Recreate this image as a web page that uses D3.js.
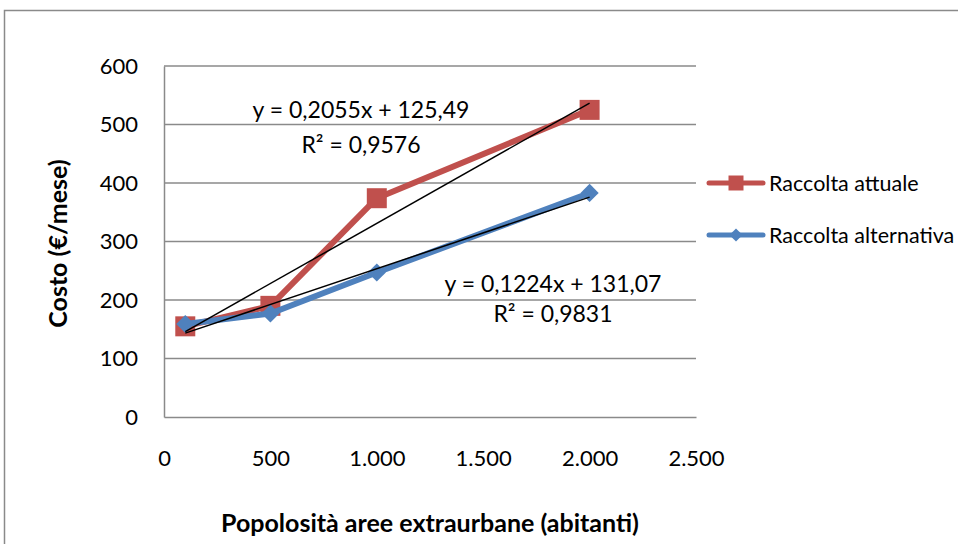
<!DOCTYPE html>
<html>
<head>
<meta charset="utf-8">
<script src="https://cdn.jsdelivr.net/npm/d3@7"></script>
<style>
  html, body { margin: 0; padding: 0; background: #fff; }
  svg { display: block; font-family: Lato, "Open Sans", sans-serif; }
</style>
</head>
<body>
<svg id="chart" width="958" height="544"></svg>
<script>
// Population of the extra-urban areas (inhabitants)
const popolosita = [100, 500, 1000, 2000];
// Monthly cost (€/mese) per collection scheme
const raccoltaAttuale = [155, 190, 374, 525];
const raccoltaAlternativa = [159, 177, 247, 383];
const seriesNames = ["Raccolta attuale", "Raccolta alternativa"];
// Linear trend lines: slope, intercept, R²
const trendSlope = [0.2055, 0.1224];
const trendIntercept = [125.49, 131.07];
const trendR2 = ["0,9576", "0,9831"];
const trendEq = ["y = 0,2055x + 125,49", "y = 0,1224x + 131,07"];
// Axis ticks
const xTicks = [0, 500, 1000, 1500, 2000, 2500];
const yTicks = [0, 100, 200, 300, 400, 500, 600];

const colors = ["#C0504D", "#4F81BD"];
const gridColor = "#8a8a8a";

const svg = d3.select("#chart");
const it = d3.formatLocale({ decimal: ",", thousands: ".", grouping: [3], currency: ["", " €"] });
const fmt = it.format(",d");

const plot = { left: 164, right: 696, top: 66, bottom: 417 };
const x = d3.scaleLinear().domain([0, 2500]).range([plot.left, plot.right]);
const y = d3.scaleLinear().domain([0, 600]).range([plot.bottom, plot.top]);

// Outer chart frame
svg.append("rect")
  .attr("x", 4.5).attr("y", 10.5)
  .attr("width", 2000).attr("height", 2000)
  .attr("fill", "none").attr("stroke", gridColor).attr("stroke-width", 1.5);

// Horizontal gridlines
svg.append("g")
  .selectAll("line")
  .data(yTicks.filter(d => d > 0))
  .join("line")
  .attr("x1", plot.left).attr("x2", plot.right)
  .attr("y1", d => y(d)).attr("y2", d => y(d))
  .attr("stroke", gridColor).attr("stroke-width", 1.5);

// Y axis
const yAxis = svg.append("g")
  .attr("transform", `translate(${plot.left},0)`)
  .call(d3.axisLeft(y).tickValues(yTicks).tickSize(0).tickPadding(26).tickFormat(fmt));
yAxis.select(".domain").attr("stroke", gridColor).attr("stroke-width", 1.5);
yAxis.selectAll("text").attr("font-size", 22).attr("font-family", "Lato, sans-serif").attr("fill", "#000");

// X axis
const xAxis = svg.append("g")
  .attr("transform", `translate(0,${plot.bottom})`)
  .call(d3.axisBottom(x).tickValues(xTicks).tickSize(0).tickPadding(33).tickFormat(fmt));
xAxis.select(".domain").attr("stroke", gridColor).attr("stroke-width", 1.5);
xAxis.selectAll("text").attr("font-size", 22).attr("font-family", "Lato, sans-serif").attr("fill", "#000");

// Axis titles
svg.append("text")
  .attr("x", (plot.left + plot.right) / 2).attr("y", 532)
  .attr("text-anchor", "middle")
  .attr("font-size", 25).attr("font-weight", "bold")
  .text("Popolosità aree extraurbane (abitanti)");
svg.append("text")
  .attr("transform", `translate(67,${(plot.top + plot.bottom) / 2 + 2}) rotate(-90)`)
  .attr("text-anchor", "middle")
  .attr("font-size", 25).attr("font-weight", "bold")
  .text("Costo (€/mese)");

// Series lines and markers
const seriesValues = [raccoltaAttuale, raccoltaAlternativa];
const line = d3.line().x(d => x(d[0])).y(d => y(d[1]));
const square = d3.symbol().type(d3.symbolSquare).size(400);
const diamond = d3.symbol().type(d3.symbolDiamond2).size(210);
const legendSquare = d3.symbol().type(d3.symbolSquare).size(225);
const legendDiamond = d3.symbol().type(d3.symbolDiamond2).size(110);

seriesValues.forEach((vals, i) => {
  const pts = popolosita.map((p, k) => [p, vals[k]]);
  const g = svg.append("g");
  g.append("path")
    .attr("d", line(pts))
    .attr("fill", "none").attr("stroke", colors[i])
    .attr("stroke-width", 6).attr("stroke-linejoin", "round");
  g.selectAll("path.m")
    .data(pts)
    .join("path").attr("class", "m")
    .attr("transform", d => `translate(${x(d[0])},${y(d[1])})`)
    .attr("d", i === 0 ? square() : diamond())
    .attr("fill", colors[i]);
});

// Linear trend lines
trendSlope.forEach((m, i) => {
  const x0 = d3.min(popolosita), x1 = d3.max(popolosita);
  svg.append("line")
    .attr("x1", x(x0)).attr("y1", y(m * x0 + trendIntercept[i]))
    .attr("x2", x(x1)).attr("y2", y(m * x1 + trendIntercept[i]))
    .attr("stroke", "#000").attr("stroke-width", 1.5);
});

// Trend equation labels
const eqPos = [[361, 118, 153], [553, 292, 322]];
trendEq.forEach((eq, i) => {
  const t = svg.append("text").attr("text-anchor", "middle").attr("font-size", 23);
  t.append("tspan").attr("x", eqPos[i][0]).attr("y", eqPos[i][1]).text(eq);
  t.append("tspan").attr("x", eqPos[i][0]).attr("y", eqPos[i][2]).text("R² = " + trendR2[i]);
});

// Legend
const legY = [183, 235];
seriesNames.forEach((name, i) => {
  const g = svg.append("g");
  g.append("line")
    .attr("x1", 709).attr("x2", 763).attr("y1", legY[i]).attr("y2", legY[i])
    .attr("stroke", colors[i]).attr("stroke-width", 5).attr("stroke-linecap", "round");
  g.append("path")
    .attr("transform", `translate(736,${legY[i]})`)
    .attr("d", i === 0 ? legendSquare() : legendDiamond())
    .attr("fill", colors[i]);
  g.append("text")
    .attr("x", 769).attr("y", legY[i]).attr("dy", "0.35em")
    .attr("font-size", 21.5).text(name);
});
</script>
</body>
</html>
